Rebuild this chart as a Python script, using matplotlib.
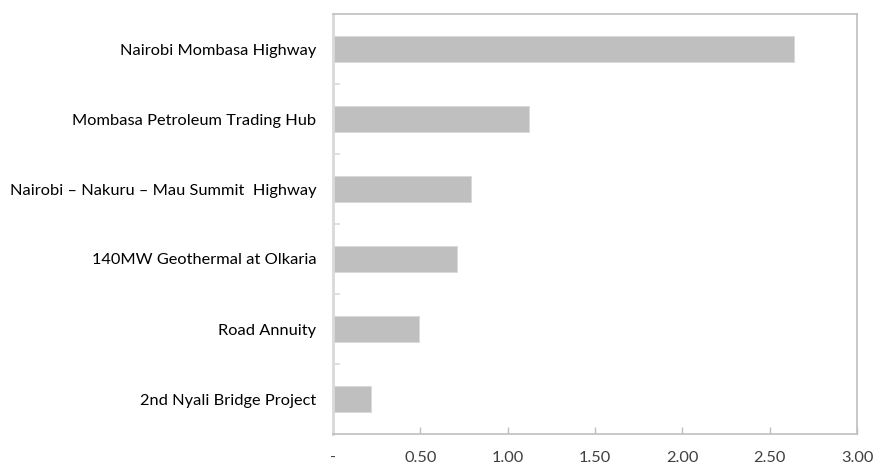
import matplotlib
matplotlib.use("Agg")
import matplotlib.pyplot as plt
import numpy as np

categories = [
    "Nairobi Mombasa Highway",
    "Mombasa Petroleum Trading Hub",
    "Nairobi \u2013 Nakuru \u2013 Mau Summit  Highway",
    "140MW Geothermal at Olkaria",
    "Road Annuity",
    "2nd Nyali Bridge Project",
]
values = [2.64, 1.12, 0.79, 0.71, 0.49, 0.22]
xticks = [0, 0.5, 1.0, 1.5, 2.0, 2.5, 3.0]
xticklabels = ["-", "0.50", "1.00", "1.50", "2.00", "2.50", "3.00"]

plt.rcParams['font.family'] = ['Lato', 'DejaVu Sans']

fig = plt.figure(figsize=(8.77, 4.69), dpi=100)
ax = fig.add_axes([333/877, 1-434/469, (857-333)/877, (434-14)/469])

y = np.arange(len(categories))
ax.barh(y, values, height=0.36, color="#BFBFBF", edgecolor="#D9D9D9", linewidth=0.6)
ax.set_ylim(len(categories)-0.5, -0.5)
ax.set_xlim(0, 3.0)
ax.set_yticks(y)
ax.set_yticklabels(categories, fontsize=11.8, color="#000000")
ax.set_yticks(np.arange(len(categories)-1)+0.5, minor=True)
ax.tick_params(axis='y', which='major', length=0, pad=12)
ax.tick_params(axis='y', which='minor', length=5, direction='in', color="#D9D9D9", width=1.2)
ax.set_xticks(xticks)
ax.set_xticklabels(xticklabels, fontsize=11.8, color="#404040")
ax.tick_params(axis='x', length=5, direction='in', color="#BFBFBF", width=1, pad=12)

for s in ['top', 'right', 'bottom']:
    ax.spines[s].set_color("#BFBFBF")
    ax.spines[s].set_linewidth(1.2)
ax.spines['left'].set_color("#D9D9D9")
ax.spines['left'].set_linewidth(2)

fig.savefig("out.png", dpi=100)
